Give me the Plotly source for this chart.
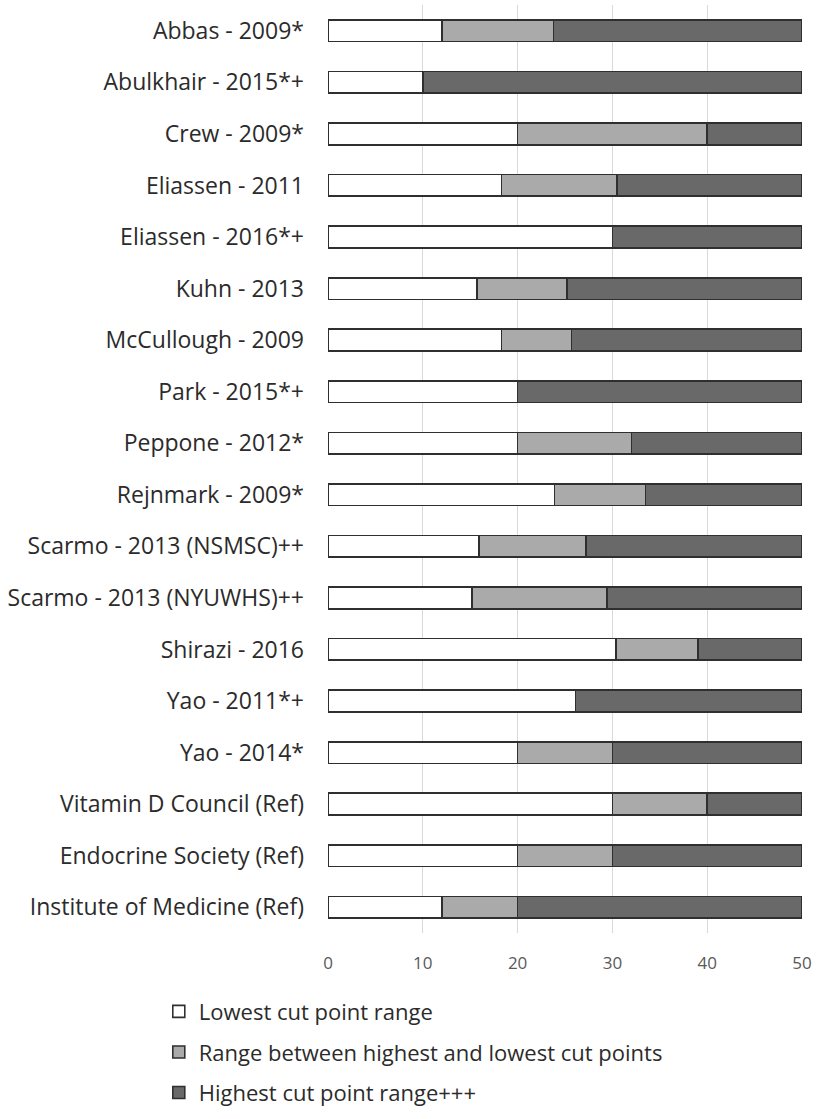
import plotly.graph_objects as go

studies = [
    "Abbas - 2009*", "Abulkhair - 2015*+", "Crew - 2009*", "Eliassen - 2011",
    "Eliassen - 2016*+", "Kuhn - 2013", "McCullough - 2009", "Park - 2015*+",
    "Peppone - 2012*", "Rejnmark - 2009*", "Scarmo - 2013 (NSMSC)++",
    "Scarmo - 2013 (NYUWHS)++", "Shirazi - 2016", "Yao - 2011*+", "Yao - 2014*",
    "Vitamin D Council (Ref)", "Endocrine Society (Ref)", "Institute of Medicine (Ref)",
]
# upper bound of lowest cut point range
lowest = [12.0, 10.0, 20.0, 18.3, 30.0, 15.7, 18.3, 20.0, 20.0, 23.9, 15.9, 15.2,
          30.4, 26.1, 20.0, 30.0, 20.0, 12.0]
# start of highest cut point range
highest_start = [23.8, 10.0, 40.0, 30.5, 30.0, 25.2, 25.7, 20.0, 32.0, 33.5, 27.2, 29.4,
                 39.0, 26.1, 30.0, 40.0, 30.0, 20.0]
axis_max = 50

middle = [h - l for l, h in zip(lowest, highest_start)]
top = [axis_max - h for h in highest_start]

series_names = ["Lowest cut point range",
                "Range between highest and lowest cut points",
                "Highest cut point range+++"]
series_vals = [lowest, middle, top]
colors = ["#ffffff", "#aaaaaa", "#696969"]

fig = go.Figure()
for i, (name, vals, col) in enumerate(zip(series_names, series_vals, colors)):
    fig.add_trace(go.Bar(
        y=studies, x=vals, name=name, orientation="h",
        marker=dict(color=col, line=dict(color="#2f2f2f", width=1.6)),
        legendgroup=f"g{i}",
    ))

fig.update_layout(
    barmode="stack",
    bargap=0.58,
    width=816, height=1119,
    margin=dict(l=328, r=14, t=5, b=180),
    plot_bgcolor="white", paper_bgcolor="white",
    font=dict(family="Open Sans", color="#2b2b2b"),
    xaxis=dict(range=[0, 50], dtick=10, showgrid=True, gridcolor="#d9d9d9",
               gridwidth=1.2, zeroline=False, showline=False,
               tickfont=dict(size=17, color="#595959"), ticks="",
               ticklabelstandoff=18),
    yaxis=dict(autorange="reversed", showgrid=False, showline=False,
               tickfont=dict(size=23, color="#2b2b2b"), ticks="",
               ticklabelstandoff=23),
    legend=dict(orientation="v", x=-0.357, xanchor="left", y=-0.062, yanchor="top",
                font=dict(size=22, color="#2b2b2b"), traceorder="grouped",
                tracegroupgap=9, itemwidth=30),
    showlegend=True,
)

fig.write_html("out.html", config={"displayModeBar": False},
               post_script="document.body.style.margin='0';")
